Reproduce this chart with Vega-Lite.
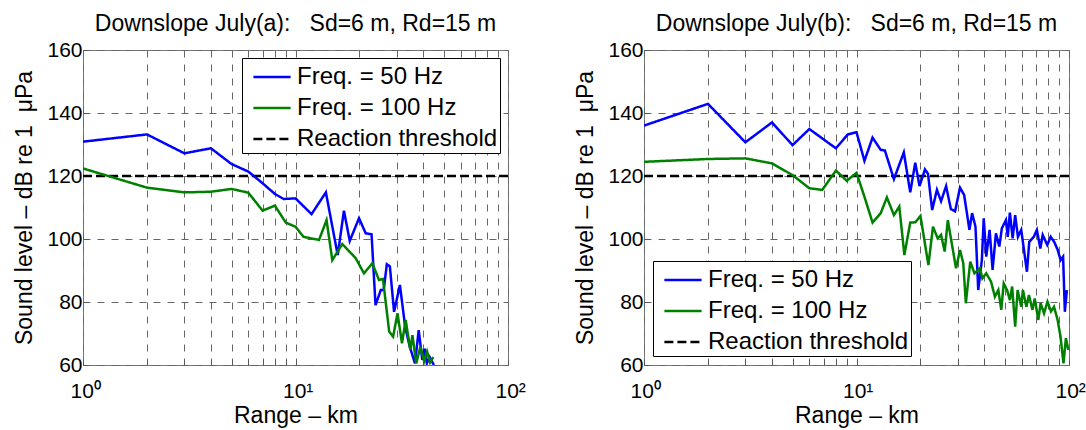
{
  "$schema": "https://vega.github.io/schema/vega-lite/v6.json",
  "padding": {"left": 13, "top": 12, "right": 0, "bottom": 0},
  "config": {
    "font": "Liberation Sans",
    "view": {"stroke": "#777", "strokeWidth": 1},
    "title": {"fontSize": 23, "fontWeight": "normal", "color": "#000", "offset": 3},
    "axis": {
      "labelFontSize": 21, "titleFontSize": 23, "titleFontWeight": "normal",
      "labelColor": "#000", "titleColor": "#000",
      "grid": true, "gridDash": [7, 7], "gridColor": "#666", "gridOpacity": 1, "gridWidth": 1,
      "domain": false, "ticks": true, "tickSize": -5, "tickColor": "#555", "labelFlush": false
    },
    "legend": {
      "labelFontSize": 24, "labelColor": "#000", "fillColor": "#fff", "strokeColor": "#000",
      "padding": 2, "symbolType": "M-1.2,0H1.2", "symbolSize": 961, "symbolStrokeWidth": 2.5,
      "symbolOffset": 11, "rowPadding": 2, "labelOffset": 8, "labelLimit": 400,
      "labelExpr": "datum.label + '\u00a0'"
    }
  },
  "datasets": {
    "a": [
      {"series": "Reaction threshold", "range": 1, "level": 120},
      {"series": "Reaction threshold", "range": 100, "level": 120},
      {"series": "Freq. = 50 Hz", "range": 1, "level": 130.9},
      {"series": "Freq. = 50 Hz", "range": 2, "level": 133.2},
      {"series": "Freq. = 50 Hz", "range": 3, "level": 127.2},
      {"series": "Freq. = 50 Hz", "range": 4, "level": 128.8},
      {"series": "Freq. = 50 Hz", "range": 5, "level": 123.8},
      {"series": "Freq. = 50 Hz", "range": 6, "level": 121.4},
      {"series": "Freq. = 50 Hz", "range": 7, "level": 117.7},
      {"series": "Freq. = 50 Hz", "range": 8, "level": 114.3},
      {"series": "Freq. = 50 Hz", "range": 8.8, "level": 112.7},
      {"series": "Freq. = 50 Hz", "range": 10, "level": 112.9},
      {"series": "Freq. = 50 Hz", "range": 11.9, "level": 107.9},
      {"series": "Freq. = 50 Hz", "range": 13.9, "level": 114.8},
      {"series": "Freq. = 50 Hz", "range": 15.8, "level": 94.9},
      {"series": "Freq. = 50 Hz", "range": 16.9, "level": 109.0},
      {"series": "Freq. = 50 Hz", "range": 18, "level": 99.4},
      {"series": "Freq. = 50 Hz", "range": 19.9, "level": 106.6},
      {"series": "Freq. = 50 Hz", "range": 21.4, "level": 101.8},
      {"series": "Freq. = 50 Hz", "range": 22.8, "level": 101.5},
      {"series": "Freq. = 50 Hz", "range": 23.8, "level": 79},
      {"series": "Freq. = 50 Hz", "range": 25.2, "level": 83.8},
      {"series": "Freq. = 50 Hz", "range": 26, "level": 83.8},
      {"series": "Freq. = 50 Hz", "range": 26.9, "level": 92},
      {"series": "Freq. = 50 Hz", "range": 27.8, "level": 91.3},
      {"series": "Freq. = 50 Hz", "range": 29.1, "level": 76.9},
      {"series": "Freq. = 50 Hz", "range": 31, "level": 85.4},
      {"series": "Freq. = 50 Hz", "range": 32.8, "level": 72.2},
      {"series": "Freq. = 50 Hz", "range": 34.5, "level": 65.8},
      {"series": "Freq. = 50 Hz", "range": 36.5, "level": 60.5},
      {"series": "Freq. = 50 Hz", "range": 38, "level": 71.1},
      {"series": "Freq. = 50 Hz", "range": 39.5, "level": 61.6},
      {"series": "Freq. = 50 Hz", "range": 40.5, "level": 65.2},
      {"series": "Freq. = 50 Hz", "range": 41.5, "level": 60.5},
      {"series": "Freq. = 50 Hz", "range": 42.8, "level": 62.5},
      {"series": "Freq. = 50 Hz", "range": 44.8, "level": 60},
      {"series": "Freq. = 100 Hz", "range": 1, "level": 122.4},
      {"series": "Freq. = 100 Hz", "range": 2, "level": 116.3},
      {"series": "Freq. = 100 Hz", "range": 3, "level": 114.8},
      {"series": "Freq. = 100 Hz", "range": 4, "level": 115.0},
      {"series": "Freq. = 100 Hz", "range": 5, "level": 115.9},
      {"series": "Freq. = 100 Hz", "range": 6, "level": 114.7},
      {"series": "Freq. = 100 Hz", "range": 7, "level": 109.0},
      {"series": "Freq. = 100 Hz", "range": 8, "level": 110.6},
      {"series": "Freq. = 100 Hz", "range": 9, "level": 105.2},
      {"series": "Freq. = 100 Hz", "range": 10, "level": 103.9},
      {"series": "Freq. = 100 Hz", "range": 10.9, "level": 100.7},
      {"series": "Freq. = 100 Hz", "range": 12.9, "level": 99.7},
      {"series": "Freq. = 100 Hz", "range": 14, "level": 106.0},
      {"series": "Freq. = 100 Hz", "range": 14.9, "level": 93.3},
      {"series": "Freq. = 100 Hz", "range": 16.6, "level": 98.4},
      {"series": "Freq. = 100 Hz", "range": 19.2, "level": 93.9},
      {"series": "Freq. = 100 Hz", "range": 21, "level": 89.1},
      {"series": "Freq. = 100 Hz", "range": 23, "level": 92.3},
      {"series": "Freq. = 100 Hz", "range": 24.7, "level": 87.0},
      {"series": "Freq. = 100 Hz", "range": 25.8, "level": 87.3},
      {"series": "Freq. = 100 Hz", "range": 27.6, "level": 70.6},
      {"series": "Freq. = 100 Hz", "range": 28.8, "level": 69.0},
      {"series": "Freq. = 100 Hz", "range": 30.2, "level": 76.4},
      {"series": "Freq. = 100 Hz", "range": 31.7, "level": 66.9},
      {"series": "Freq. = 100 Hz", "range": 33, "level": 74.3},
      {"series": "Freq. = 100 Hz", "range": 34.7, "level": 64.8},
      {"series": "Freq. = 100 Hz", "range": 35.5, "level": 69.5},
      {"series": "Freq. = 100 Hz", "range": 37, "level": 60.5},
      {"series": "Freq. = 100 Hz", "range": 38.7, "level": 65.8},
      {"series": "Freq. = 100 Hz", "range": 40.3, "level": 61.2},
      {"series": "Freq. = 100 Hz", "range": 41.6, "level": 64.3},
      {"series": "Freq. = 100 Hz", "range": 43, "level": 60.8},
      {"series": "Freq. = 100 Hz", "range": 44.5, "level": 62.5}
    ],
    "b": [
      {"series": "Reaction threshold", "range": 1, "level": 120},
      {"series": "Reaction threshold", "range": 100, "level": 120},
      {"series": "Freq. = 50 Hz", "range": 1, "level": 136.0},
      {"series": "Freq. = 50 Hz", "range": 2, "level": 142.9},
      {"series": "Freq. = 50 Hz", "range": 3, "level": 130.7},
      {"series": "Freq. = 50 Hz", "range": 4, "level": 137.0},
      {"series": "Freq. = 50 Hz", "range": 5, "level": 129.8},
      {"series": "Freq. = 50 Hz", "range": 6, "level": 134.9},
      {"series": "Freq. = 50 Hz", "range": 8, "level": 128.8},
      {"series": "Freq. = 50 Hz", "range": 9.1, "level": 133.2},
      {"series": "Freq. = 50 Hz", "range": 10, "level": 133.9},
      {"series": "Freq. = 50 Hz", "range": 10.9, "level": 124.8},
      {"series": "Freq. = 50 Hz", "range": 11.9, "level": 132.2},
      {"series": "Freq. = 50 Hz", "range": 13, "level": 128.3},
      {"series": "Freq. = 50 Hz", "range": 13.6, "level": 128.1},
      {"series": "Freq. = 50 Hz", "range": 15, "level": 119.0},
      {"series": "Freq. = 50 Hz", "range": 16.7, "level": 127.5},
      {"series": "Freq. = 50 Hz", "range": 17.9, "level": 114.8},
      {"series": "Freq. = 50 Hz", "range": 18.9, "level": 124.2},
      {"series": "Freq. = 50 Hz", "range": 19.8, "level": 116.8},
      {"series": "Freq. = 50 Hz", "range": 21, "level": 122.1},
      {"series": "Freq. = 50 Hz", "range": 21.7, "level": 120.7},
      {"series": "Freq. = 50 Hz", "range": 22.7, "level": 109.2},
      {"series": "Freq. = 50 Hz", "range": 23.9, "level": 115.6},
      {"series": "Freq. = 50 Hz", "range": 25, "level": 112.0},
      {"series": "Freq. = 50 Hz", "range": 26.4, "level": 116.8},
      {"series": "Freq. = 50 Hz", "range": 27.8, "level": 109.5},
      {"series": "Freq. = 50 Hz", "range": 29.1, "level": 108.8},
      {"series": "Freq. = 50 Hz", "range": 30.7, "level": 116.3},
      {"series": "Freq. = 50 Hz", "range": 32.1, "level": 114},
      {"series": "Freq. = 50 Hz", "range": 34, "level": 102.9},
      {"series": "Freq. = 50 Hz", "range": 35, "level": 108.2},
      {"series": "Freq. = 50 Hz", "range": 36.3, "level": 103.9},
      {"series": "Freq. = 50 Hz", "range": 37.4, "level": 83.8},
      {"series": "Freq. = 50 Hz", "range": 38.9, "level": 93.3},
      {"series": "Freq. = 50 Hz", "range": 39.7, "level": 106.6},
      {"series": "Freq. = 50 Hz", "range": 40.8, "level": 94.4},
      {"series": "Freq. = 50 Hz", "range": 42.3, "level": 102.9},
      {"series": "Freq. = 50 Hz", "range": 43.7, "level": 90.2},
      {"series": "Freq. = 50 Hz", "range": 45.3, "level": 101.8},
      {"series": "Freq. = 50 Hz", "range": 47, "level": 97.6},
      {"series": "Freq. = 50 Hz", "range": 48.3, "level": 103.4},
      {"series": "Freq. = 50 Hz", "range": 50.5, "level": 106.0},
      {"series": "Freq. = 50 Hz", "range": 51.5, "level": 100.7},
      {"series": "Freq. = 50 Hz", "range": 52.7, "level": 108.4},
      {"series": "Freq. = 50 Hz", "range": 54.3, "level": 100.2},
      {"series": "Freq. = 50 Hz", "range": 55.8, "level": 107.6},
      {"series": "Freq. = 50 Hz", "range": 57.5, "level": 100.7},
      {"series": "Freq. = 50 Hz", "range": 59.6, "level": 102.9},
      {"series": "Freq. = 50 Hz", "range": 63.4, "level": 89.6},
      {"series": "Freq. = 50 Hz", "range": 65, "level": 99.1},
      {"series": "Freq. = 50 Hz", "range": 68.3, "level": 100.7},
      {"series": "Freq. = 50 Hz", "range": 70.6, "level": 102.9},
      {"series": "Freq. = 50 Hz", "range": 73.3, "level": 97.0},
      {"series": "Freq. = 50 Hz", "range": 75.2, "level": 101.3},
      {"series": "Freq. = 50 Hz", "range": 79, "level": 98.1},
      {"series": "Freq. = 50 Hz", "range": 82, "level": 100.7},
      {"series": "Freq. = 50 Hz", "range": 85.2, "level": 99.1},
      {"series": "Freq. = 50 Hz", "range": 88.5, "level": 96.5},
      {"series": "Freq. = 50 Hz", "range": 91.3, "level": 93.3},
      {"series": "Freq. = 50 Hz", "range": 93.8, "level": 94.4},
      {"series": "Freq. = 50 Hz", "range": 95.6, "level": 76.9},
      {"series": "Freq. = 50 Hz", "range": 97.7, "level": 83.8},
      {"series": "Freq. = 100 Hz", "range": 1, "level": 124.5},
      {"series": "Freq. = 100 Hz", "range": 2, "level": 125.4},
      {"series": "Freq. = 100 Hz", "range": 3, "level": 125.6},
      {"series": "Freq. = 100 Hz", "range": 4, "level": 124.0},
      {"series": "Freq. = 100 Hz", "range": 5, "level": 120.3},
      {"series": "Freq. = 100 Hz", "range": 6, "level": 116.1},
      {"series": "Freq. = 100 Hz", "range": 6.9, "level": 115.6},
      {"series": "Freq. = 100 Hz", "range": 8, "level": 121.7},
      {"series": "Freq. = 100 Hz", "range": 9, "level": 118.5},
      {"series": "Freq. = 100 Hz", "range": 10, "level": 121.0},
      {"series": "Freq. = 100 Hz", "range": 10.9, "level": 113.4},
      {"series": "Freq. = 100 Hz", "range": 11.9, "level": 105.2},
      {"series": "Freq. = 100 Hz", "range": 13, "level": 108.2},
      {"series": "Freq. = 100 Hz", "range": 13.9, "level": 113.2},
      {"series": "Freq. = 100 Hz", "range": 15, "level": 107.6},
      {"series": "Freq. = 100 Hz", "range": 15.9, "level": 110.3},
      {"series": "Freq. = 100 Hz", "range": 16.8, "level": 94.9},
      {"series": "Freq. = 100 Hz", "range": 17.9, "level": 105.2},
      {"series": "Freq. = 100 Hz", "range": 18.9, "level": 105.3},
      {"series": "Freq. = 100 Hz", "range": 20, "level": 107.3},
      {"series": "Freq. = 100 Hz", "range": 21.8, "level": 91.7},
      {"series": "Freq. = 100 Hz", "range": 22.9, "level": 103.9},
      {"series": "Freq. = 100 Hz", "range": 24.1, "level": 100.2},
      {"series": "Freq. = 100 Hz", "range": 25, "level": 101.3},
      {"series": "Freq. = 100 Hz", "range": 26, "level": 96},
      {"series": "Freq. = 100 Hz", "range": 26.9, "level": 106.0},
      {"series": "Freq. = 100 Hz", "range": 28, "level": 99.1},
      {"series": "Freq. = 100 Hz", "range": 29.4, "level": 90.7},
      {"series": "Freq. = 100 Hz", "range": 30.7, "level": 96.5},
      {"series": "Freq. = 100 Hz", "range": 31.8, "level": 92.3},
      {"series": "Freq. = 100 Hz", "range": 32.7, "level": 79.6},
      {"series": "Freq. = 100 Hz", "range": 34.3, "level": 92.8},
      {"series": "Freq. = 100 Hz", "range": 35.9, "level": 89.1},
      {"series": "Freq. = 100 Hz", "range": 38.1, "level": 90.7},
      {"series": "Freq. = 100 Hz", "range": 39.1, "level": 87.5},
      {"series": "Freq. = 100 Hz", "range": 40.8, "level": 89.1},
      {"series": "Freq. = 100 Hz", "range": 43, "level": 86.4},
      {"series": "Freq. = 100 Hz", "range": 44.8, "level": 81.7},
      {"series": "Freq. = 100 Hz", "range": 46.5, "level": 83.8},
      {"series": "Freq. = 100 Hz", "range": 48, "level": 77.5},
      {"series": "Freq. = 100 Hz", "range": 49.3, "level": 85.9},
      {"series": "Freq. = 100 Hz", "range": 51.1, "level": 83.8},
      {"series": "Freq. = 100 Hz", "range": 52.7, "level": 80.6},
      {"series": "Freq. = 100 Hz", "range": 54, "level": 84.9},
      {"series": "Freq. = 100 Hz", "range": 55.8, "level": 72.2},
      {"series": "Freq. = 100 Hz", "range": 57.3, "level": 83.8},
      {"series": "Freq. = 100 Hz", "range": 59.6, "level": 78.5},
      {"series": "Freq. = 100 Hz", "range": 60.7, "level": 83.8},
      {"series": "Freq. = 100 Hz", "range": 63, "level": 78.5},
      {"series": "Freq. = 100 Hz", "range": 64.8, "level": 82.2},
      {"series": "Freq. = 100 Hz", "range": 67.3, "level": 77.5},
      {"series": "Freq. = 100 Hz", "range": 69, "level": 81.1},
      {"series": "Freq. = 100 Hz", "range": 71.7, "level": 74.3},
      {"series": "Freq. = 100 Hz", "range": 73.5, "level": 79.6},
      {"series": "Freq. = 100 Hz", "range": 76.3, "level": 76.4},
      {"series": "Freq. = 100 Hz", "range": 79.2, "level": 80.1},
      {"series": "Freq. = 100 Hz", "range": 82.3, "level": 77.0},
      {"series": "Freq. = 100 Hz", "range": 85, "level": 78.5},
      {"series": "Freq. = 100 Hz", "range": 88.4, "level": 74.3},
      {"series": "Freq. = 100 Hz", "range": 91.2, "level": 69.0},
      {"series": "Freq. = 100 Hz", "range": 94.2, "level": 60.5},
      {"series": "Freq. = 100 Hz", "range": 96.7, "level": 68.5},
      {"series": "Freq. = 100 Hz", "range": 99.3, "level": 64.8}
    ]
  },
  "spacing": 48,
  "resolve": {"legend": {"color": "independent", "strokeDash": "independent"}},
  "hconcat": [
    {
      "width": 425, "height": 315,
      "title": {"text": "Downslope July(a):\u00a0\u00a0\u00a0Sd=6 m, Rd=15 m"},
      "data": {"name": "a"},
      "mark": {"type": "line", "strokeWidth": 2.5, "clip": true},
      "encoding": {
        "x": {"field": "range", "type": "quantitative", "title": "Range – km",
          "scale": {"type": "log", "domain": [1, 100], "nice": false},
          "axis": {"values": [1,2,3,4,5,6,7,8,9,10,20,30,40,50,60,70,80,90,100], "labelOverlap": false, "labelPadding": 20, "titlePadding": 3,
            "labelAlign": "left", "labelOffset": -13,
            "labelExpr": "datum.value == 1 ? '10⁰' : datum.value == 10 ? '10¹' : datum.value == 100 ? '10²' : ''"}},
        "y": {"field": "level", "type": "quantitative", "title": "Sound level – dB re 1 \u00a0μPa",
          "scale": {"domain": [60, 160], "nice": false},
          "axis": {"values": [60, 80, 100, 120, 140, 160], "labelPadding": 6, "titlePadding": 10}},
        "color": {"field": "series", "type": "nominal",
          "scale": {"domain": ["Freq. = 50 Hz", "Freq. = 100 Hz", "Reaction threshold"], "range": ["#0000ff", "#008000", "#000000"]},
          "legend": {"title": null, "orient": "top-right", "offset": 8}},
        "strokeDash": {"field": "series", "type": "nominal",
          "scale": {"domain": ["Freq. = 50 Hz", "Freq. = 100 Hz", "Reaction threshold"], "range": [[1, 0], [1, 0], [9, 4]]},
          "legend": {"title": null, "orient": "top-right", "offset": 8}}
      }
    },
    {
      "width": 425, "height": 315,
      "title": {"text": "Downslope July(b):\u00a0\u00a0\u00a0Sd=6 m, Rd=15 m"},
      "data": {"name": "b"},
      "mark": {"type": "line", "strokeWidth": 2.5, "clip": true},
      "encoding": {
        "x": {"field": "range", "type": "quantitative", "title": "Range – km",
          "scale": {"type": "log", "domain": [1, 100], "nice": false},
          "axis": {"values": [1,2,3,4,5,6,7,8,9,10,20,30,40,50,60,70,80,90,100], "labelOverlap": false, "labelPadding": 20, "titlePadding": 3,
            "labelAlign": "left", "labelOffset": -14,
            "labelExpr": "datum.value == 1 ? '10⁰' : datum.value == 10 ? '10¹' : datum.value == 100 ? '10²' : ''"}},
        "y": {"field": "level", "type": "quantitative", "title": "Sound level – dB re 1 \u00a0μPa",
          "scale": {"domain": [60, 160], "nice": false},
          "axis": {"values": [60, 80, 100, 120, 140, 160], "labelPadding": 6, "titlePadding": 10}},
        "color": {"field": "series", "type": "nominal",
          "scale": {"domain": ["Freq. = 50 Hz", "Freq. = 100 Hz", "Reaction threshold"], "range": ["#0000ff", "#008000", "#000000"]},
          "legend": {"title": null, "orient": "bottom-left", "offset": 9}},
        "strokeDash": {"field": "series", "type": "nominal",
          "scale": {"domain": ["Freq. = 50 Hz", "Freq. = 100 Hz", "Reaction threshold"], "range": [[1, 0], [1, 0], [9, 4]]},
          "legend": {"title": null, "orient": "bottom-left", "offset": 9}}
      }
    }
  ]
}
